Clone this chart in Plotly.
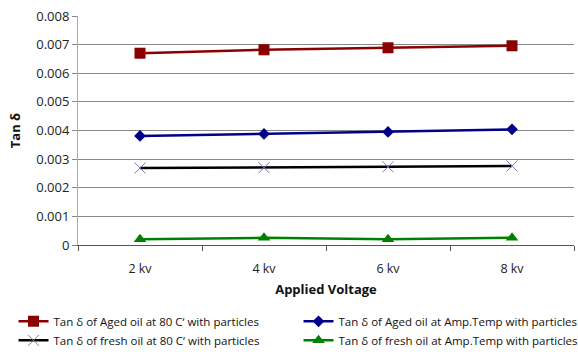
import plotly.graph_objects as go

categories = ["2 kv", "4 kv", "6 kv", "8 kv"]
aged_80 = [0.0067, 0.00682, 0.00689, 0.00696]
aged_amb = [0.00381, 0.00388, 0.00395, 0.00404]
fresh_80 = [0.00269, 0.0027, 0.00273, 0.00276]
fresh_amb = [0.0002, 0.00025, 0.0002, 0.00025]
names = [
    "Tan δ of Aged oil at 80 Cʼ with particles",
    "Tan δ of Aged oil at Amp.Temp with particles",
    "Tan δ of fresh oil at 80 Cʼ with particles",
    "Tan δ of fresh oil at Amp.Temp with particles",
]
y_ticks = [0, 0.001, 0.002, 0.003, 0.004, 0.005, 0.006, 0.007, 0.008]
y_tick_text = ["0", "0.001", "0.002", "0.003", "0.004", "0.005", "0.006", "0.007", "0.008"]

FONT = "Open Sans, Liberation Sans, sans-serif"
fig = go.Figure()
fig.add_trace(go.Scatter(x=categories, y=aged_80, name=names[0], mode="lines+markers",
                         line=dict(color="#8b0000", width=2.5),
                         marker=dict(symbol="square", size=11, color="#8b0000")))
fig.add_trace(go.Scatter(x=categories, y=aged_amb, name=names[1], mode="lines+markers",
                         line=dict(color="#00008b", width=2.5),
                         marker=dict(symbol="diamond", size=9, color="#00008b")))
fig.add_trace(go.Scatter(x=categories, y=fresh_80, name=names[2], mode="lines+markers",
                         line=dict(color="#000000", width=2.5),
                         marker=dict(symbol="x-thin", size=11, color="#7878c0",
                                     line=dict(width=1, color="#7878c0"))))
fig.add_trace(go.Scatter(x=categories, y=fresh_amb, name=names[3], mode="lines+markers",
                         line=dict(color="#008000", width=2.5),
                         marker=dict(symbol="triangle-up", size=11, color="#008000")))

fig.update_layout(
    width=578, height=355,
    margin=dict(l=78, r=4, t=16, b=110, autoexpand=False),
    plot_bgcolor="white", paper_bgcolor="white",
    font=dict(family=FONT, size=12, color="#222"),
    showlegend=True,
    legend=dict(orientation="h", xref="paper", yref="paper",
                x=-0.13, xanchor="left", y=-0.27, yanchor="top",
                entrywidth=240, font=dict(size=11.5, color="#111"),
                tracegroupgap=0, itemwidth=30, traceorder="normal"),
    xaxis=dict(type="category",
               title=dict(text="<b>Applied Voltage</b>", font=dict(size=13, color="#111"), standoff=8),
               showline=True, linecolor="#555", linewidth=1,
               ticks="outside", ticklen=5, tickcolor="#555", tickson="boundaries",
               ticklabelstandoff=12,
               tickfont=dict(size=12.5, color="#222"),
               range=[-0.5, 3.5], showgrid=False),
    yaxis=dict(title=dict(text="<b>Tan δ</b>", font=dict(size=13, color="#111"), standoff=12),
               range=[0, 0.008], tickvals=y_ticks, ticktext=y_tick_text,
               tickfont=dict(size=13, color="#222"),
               showgrid=True, gridcolor="#888", gridwidth=1,
               showline=True, linecolor="#aaa", linewidth=1,
               ticks="outside", ticklen=5, tickcolor="#888", zeroline=False),
)
fig.write_html("out.html")
